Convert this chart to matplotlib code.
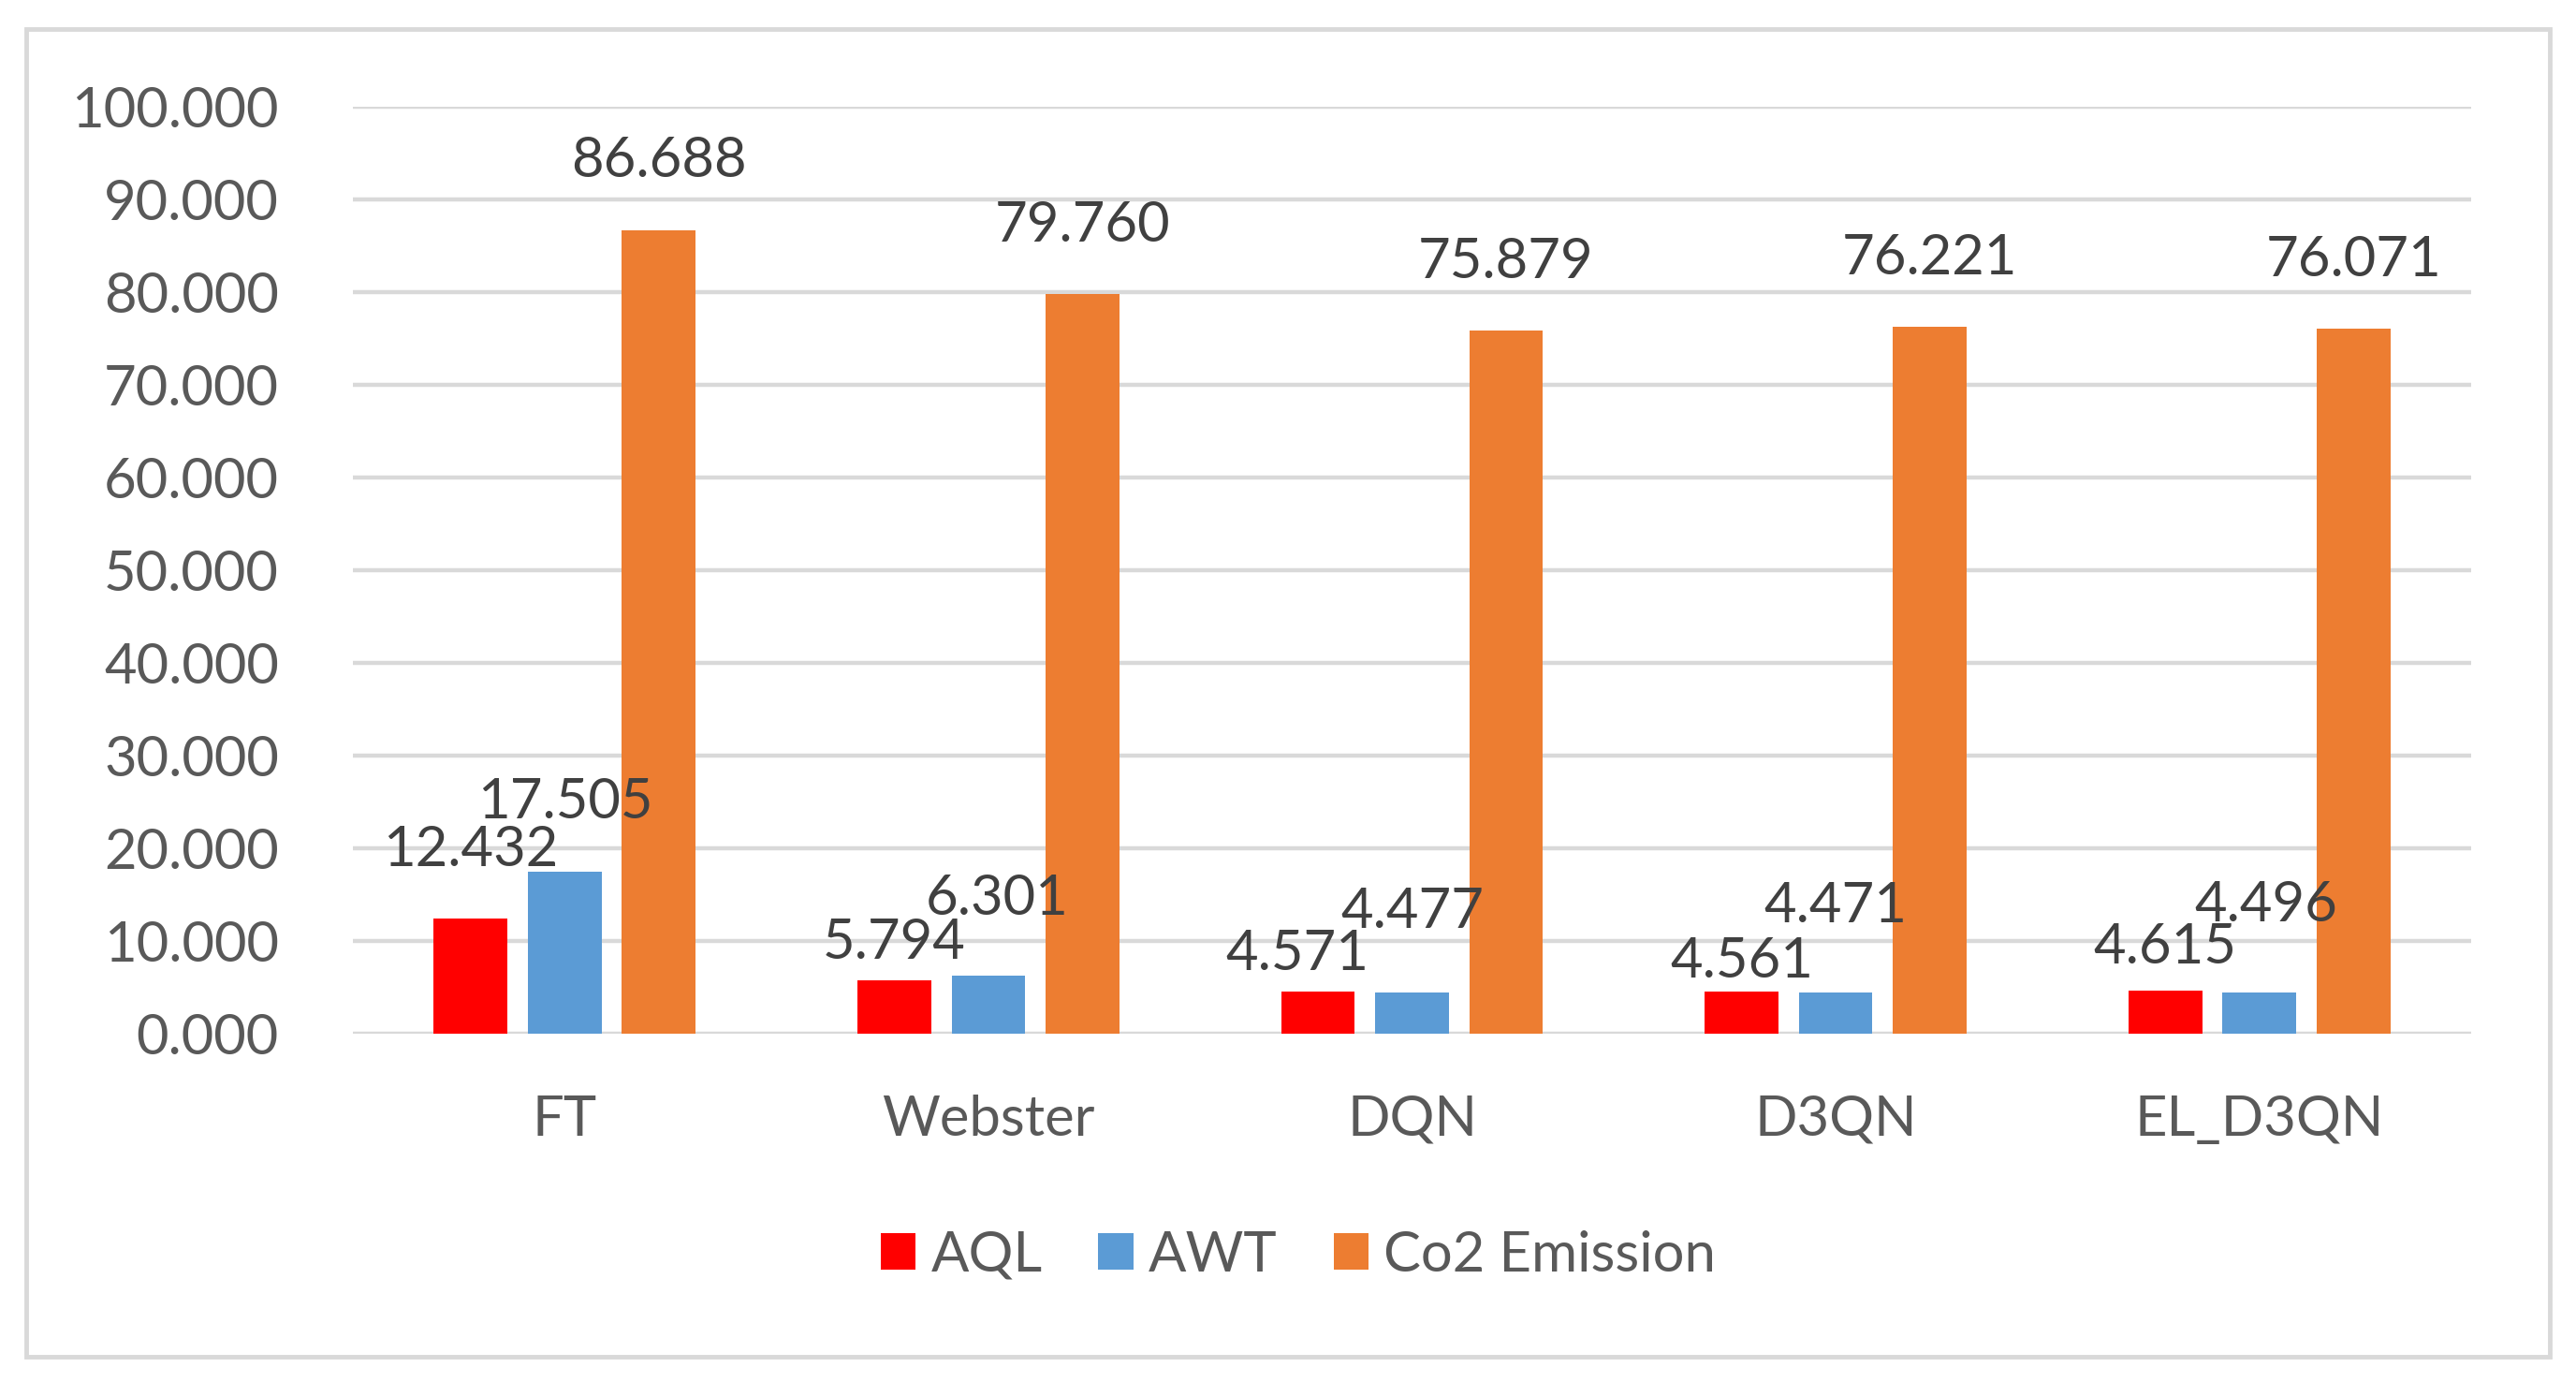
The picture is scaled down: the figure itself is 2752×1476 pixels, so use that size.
import numpy as np
import matplotlib
matplotlib.use('Agg')
import matplotlib.pyplot as plt
from matplotlib.patches import Rectangle, Patch

# chart data
methods = ['FT', 'Webster', 'DQN', 'D3QN', 'EL_D3QN']
aql = [12.432, 5.794, 4.571, 4.561, 4.615]
awt = [17.505, 6.301, 4.477, 4.471, 4.496]
co2 = [86.688, 79.760, 75.879, 76.221, 76.071]
series_names = ['AQL', 'AWT', 'Co2 Emission']
yticks = [0, 10, 20, 30, 40, 50, 60, 70, 80, 90, 100]

colors = ['#FF0000', '#5B9BD5', '#ED7D31']
# label placement (Excel moved the crowded ones around)
label_dy = [[7.4, 4.0, 4.0, 3.2, 4.7],
            [7.4, 8.2, 8.7, 9.3, 9.3],
            [7.4, 7.4, 7.4, 7.4, 7.4]]
label_dx = [[0, 0, -0.05, 0, 0],
            [0, 0.02, 0, 0, 0.015],
            [0, 0, 0, 0, 0]]

plt.rcParams['font.family'] = ['Lato', 'DejaVu Sans']
FS = 43
TXT = '#595959'
LBL = '#404040'
GRID = '#D9D9D9'

fig = plt.figure(figsize=(27.52, 14.76), dpi=100)
ax = fig.add_axes([0.137, 0.252, 0.9593 - 0.137, 0.9228 - 0.252])

x = np.arange(len(methods))
w = 0.174
step = 0.222
data = [aql, awt, co2]
for i, vals in enumerate(data):
    xs = x + (i - 1) * step
    ax.bar(xs, vals, w, color=colors[i], zorder=3, label=series_names[i])
    for j, v in enumerate(vals):
        ax.text(xs[j] + label_dx[i][j], v + label_dy[i][j], '%.3f' % v,
                ha='center', va='center', fontsize=FS, color=LBL, zorder=4)

ax.set_xlim(-0.5, len(methods) - 0.5)
ax.set_ylim(0, 100)
ax.set_yticks(yticks)
ax.set_yticklabels(['%.3f' % t for t in yticks])
ax.tick_params(axis='y', length=0, pad=57, labelsize=FS, labelcolor=TXT)
ax.set_xticks([])
ax.yaxis.grid(True, color=GRID, linewidth=3.2, zorder=0)
ax.set_axisbelow(True)
for s in ax.spines.values():
    s.set_visible(False)

# category labels
trans = matplotlib.transforms.blended_transform_factory(ax.transData, ax.transAxes)
for xi, m in zip(x, methods):
    ax.text(xi, -0.110, m, transform=trans, ha='center', va='baseline',
            fontsize=FS, color=TXT)

handles = [Patch(facecolor=c, edgecolor='none') for c in colors]
fig.legend(handles, series_names, loc='center', bbox_to_anchor=(0.504, 0.0915),
           ncol=3, frameon=False, fontsize=FS, handlelength=0.63,
           handleheight=0.63, handletextpad=0.27, columnspacing=1.0,
           labelcolor=TXT)

# outer chart border
fig.patches.append(Rectangle((0.0102, 0.0183), 0.9797, 0.9607, transform=fig.transFigure,
                             fill=False, edgecolor=GRID, linewidth=3.5))

fig.savefig('out.png', dpi=100, facecolor='white')
